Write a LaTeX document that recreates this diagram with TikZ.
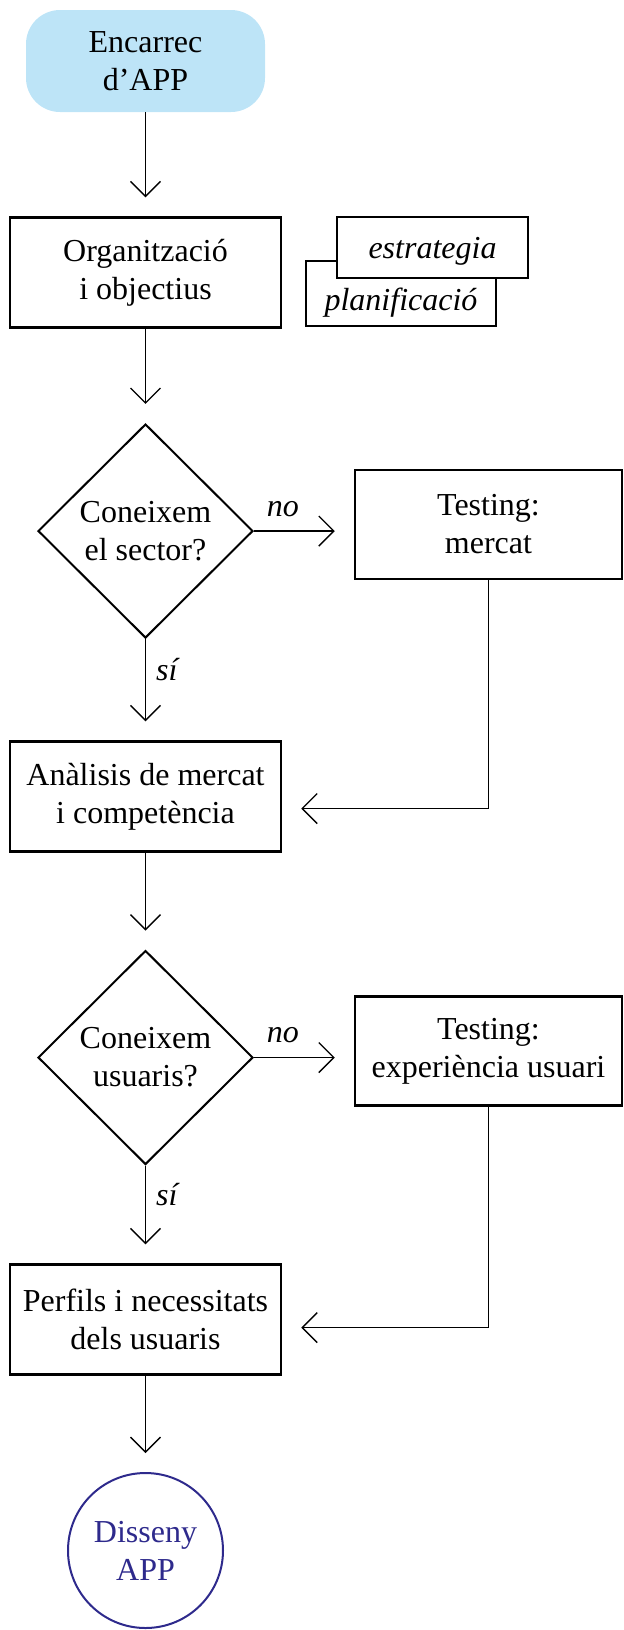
\documentclass[tikz,border=0pt]{standalone}
\usepackage{fontspec}
\setmainfont{Liberation Serif}
\usetikzlibrary{shapes.geometric,arrows.meta}
\definecolor{startblue}{HTML}{BDE4F7}
\definecolor{endblue}{HTML}{2E2A8C}

\begin{document}
\begin{tikzpicture}[x=0.5pt, y=-0.5pt,
    every node/.style={font=\fontsize{16}{19}\selectfont, align=center, inner sep=0pt},
    startbox/.style={fill=startblue, rounded corners=17pt, minimum width=119.5pt, minimum height=51pt},
    stepbox/.style={draw, line width=1.25pt, minimum width=135.5pt, minimum height=55pt},
    testbox/.style={draw, line width=1.25pt, minimum width=133.5pt, minimum height=54.5pt},
    tagbox/.style={draw, fill=white, line width=1.1pt, font=\fontsize{16}{19}\selectfont\itshape, minimum width=95pt},
    ask/.style={draw, diamond, line width=1pt, minimum width=107.5pt, minimum height=107pt},
    endnode/.style={draw=endblue, text=endblue, circle, line width=1pt, minimum size=77.5pt},
    arr/.style={line width=0.7pt, -{Straight Barb[length=7.5pt, width=15pt]}, shorten >=9.5pt},
    lbl/.style={font=\fontsize{16}{19}\selectfont\itshape}
]
    \useasboundingbox (0,0) rectangle (624,1630);
    % Main column
    \node[startbox] (start) at (145.5,61) {Encarrec\\d'APP};
    \node[stepbox] (org) at (145.5,272.5) {Organització\\i objectius};
    \node[ask] (d1) at (145.5,531) {Coneixem\\el sector?};
    \node[stepbox] (ana) at (145.5,796.5) {Anàlisis de mercat\\i competència};
    \node[ask] (d2) at (145.5,1057.5) {Coneixem\\usuaris?};
    \node[stepbox] (perf) at (145.5,1319.5) {Perfils i necessitats\\dels usuaris};
    \node[endnode] (end) at (145.5,1550.5) {Disseny\\APP};
    % Side boxes
    \node[tagbox, minimum height=32.5pt, text height=20pt, text depth=3.5pt] (plan) at (401,293.5) {planificació};
    \node[tagbox, minimum height=30.5pt, minimum width=95.5pt, text height=14.5pt, text depth=3.1pt] (estr) at (432.5,247.5) {estrategia};
    \node[testbox] (t1) at (488.5,524.5) {Testing:\\mercat};
    \node[testbox] (t2) at (488.5,1051) {Testing:\\experiència usuari};
    % Arrows
    \foreach \a/\b in {start/org, org/d1, ana/d2, perf/end}
        \draw[arr] (\a) -- (\b);
    \draw[arr] (d1.south) -- node[lbl, pos=0.3, right=5pt] {sí} (ana);
    \draw[arr] (d2.south) -- node[lbl, pos=0.3, right=5pt] {sí} (perf);
    \draw[arr] (d1.east) -- node[lbl, pos=0.29, above=7pt] {no} (t1.west |- d1.east);
    \draw[arr] (d2.east) -- node[lbl, pos=0.29, above=7pt] {no} (t2.west |- d2.east);
    \draw[arr] (t1.south) |- ([yshift=-6pt]ana.east);
    \draw[arr] (t2.south) |- ([yshift=-4pt]perf.east);
\end{tikzpicture}
\end{document}
